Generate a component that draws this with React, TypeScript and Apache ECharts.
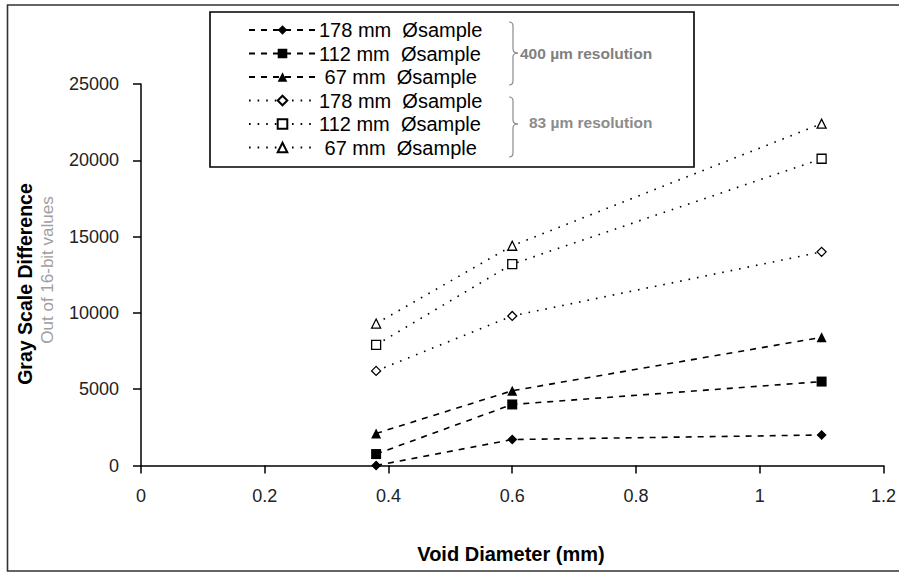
import React, { useEffect, useRef } from "react";
import * as echarts from "echarts";

const xValues = [0.38, 0.6, 1.1];
const s178at400 = [0, 1700, 2000];
const s112at400 = [750, 4000, 5500];
const s67at400 = [2100, 4900, 8400];
const s178at83 = [6200, 9800, 14000];
const s112at83 = [7900, 13200, 20100];
const s67at83 = [9300, 14400, 22400];

const seriesIds = ["f178", "f112", "f67", "o178", "o112", "o67"];
const seriesLabels = [
  "178 mm\u00a0\u00a0Øsample",
  "112 mm\u00a0\u00a0Øsample",
  "\u00a067 mm\u00a0\u00a0Øsample",
  "178 mm\u00a0\u00a0Øsample",
  "112 mm\u00a0\u00a0Øsample",
  "\u00a067 mm\u00a0\u00a0Øsample",
];
const seriesValues = [s178at400, s112at400, s67at400, s178at83, s112at83, s67at83];
const seriesSymbols = ["diamond", "rect", "triangle", "diamond", "rect", "triangle"];
const groupLabels = ["400 µm resolution", "83 µm resolution"];
const xTicks = [0, 0.2, 0.4, 0.6, 0.8, 1, 1.2];
const yTicks = [0, 5000, 10000, 15000, 20000, 25000];

const FONT = "Liberation Sans, Arial, sans-serif";

function brace(x0: number, yTop: number, yMid: number, yBot: number) {
  const xv = x0 + 4;
  const xt = x0 + 9;
  const st = { stroke: "#8a8a8a", lineWidth: 1.2, fill: null as any };
  return [
    { type: "bezierCurve", shape: { x1: x0, y1: yTop, cpx1: xv, cpy1: yTop, x2: xv, y2: yTop + 4 }, style: st },
    { type: "line", shape: { x1: xv, y1: yTop + 4, x2: xv, y2: yMid - 4 }, style: st },
    { type: "bezierCurve", shape: { x1: xv, y1: yMid - 4, cpx1: xv, cpy1: yMid, x2: xt, y2: yMid }, style: st },
    { type: "bezierCurve", shape: { x1: xt, y1: yMid, cpx1: xv, cpy1: yMid, x2: xv, y2: yMid + 4 }, style: st },
    { type: "line", shape: { x1: xv, y1: yMid + 4, x2: xv, y2: yBot - 4 }, style: st },
    { type: "bezierCurve", shape: { x1: xv, y1: yBot - 4, cpx1: xv, cpy1: yBot, x2: x0, y2: yBot }, style: st },
  ];
}

export default function App() {
  const ref = useRef<HTMLDivElement>(null);
  useEffect(() => {
    if (!ref.current) return;
    const chart = echarts.init(ref.current, null, { renderer: "svg" });
    const series = seriesIds.map((id, i) => {
      const filled = i < 3;
      return {
        name: id,
        type: "line",
        data: xValues.map((x, j) => [x, seriesValues[i][j]]),
        symbol: seriesSymbols[i],
        symbolSize: filled ? 10 : 9,
        showSymbol: true,
        lineStyle: filled
          ? { color: "#000", width: 1.6, type: [6, 6] }
          : { color: "#000", width: 1.6, type: [1.6, 7] },
        itemStyle: filled
          ? { color: "#000", borderColor: "#000", borderWidth: 0 }
          : { color: "#fff", borderColor: "#000", borderWidth: 1.3 },
        z: 3,
      };
    });
    const option: any = {
      animation: false,
      backgroundColor: "#fff",
      textStyle: { fontFamily: FONT },
      grid: { left: 141, top: 84, width: 750, height: 381.5, containLabel: false },
      xAxis: {
        type: "value",
        min: 0,
        max: 1.2,
        interval: 0.2,
        axisLine: { show: true, onZero: false, lineStyle: { color: "#000", width: 1.5 } },
        axisTick: { show: true, inside: false, length: 8, lineStyle: { color: "#000", width: 1.5 } },
        axisLabel: {
          margin: 21,
          color: "#222",
          fontSize: 18,
          fontFamily: FONT,
          formatter: (v: number) => {
            const t = xTicks.find((k) => Math.abs(k - v) < 1e-6);
            return t === undefined ? "" : String(t);
          },
        },
        splitLine: { show: false },
      },
      yAxis: {
        type: "value",
        min: 0,
        max: 25000,
        interval: 5000,
        axisLine: { show: true, lineStyle: { color: "#000", width: 1.5 } },
        axisTick: { show: true, inside: false, length: 8, lineStyle: { color: "#000", width: 1.5 } },
        axisLabel: {
          margin: 22,
          color: "#222",
          fontSize: 18,
          fontFamily: FONT,
          formatter: (v: number) => (yTicks.includes(v) ? String(v) : ""),
        },
        splitLine: { show: false },
      },
      legend: {
        data: seriesIds,
        orient: "vertical",
        left: 248,
        top: 20,
        padding: 0,
        itemWidth: 67,
        itemHeight: 12,
        itemGap: 3.5,
        formatter: (name: string) => seriesLabels[seriesIds.indexOf(name)],
        textStyle: { fontSize: 20, color: "#000", fontFamily: FONT, lineHeight: 20, padding: [0, 0, 0, -2] },
        selectedMode: false,
        z: 10,
      },
      graphic: [
        {
          type: "rect",
          shape: { x: 7.5, y: 5, width: 900, height: 566 },
          style: { fill: null, stroke: "#333", lineWidth: 1.6 },
          z: 0,
          silent: true,
        },
        {
          type: "rect",
          shape: { x: 210, y: 12, width: 484, height: 155 },
          style: { fill: "#fff", stroke: "#000", lineWidth: 1.6 },
          z: 1,
          silent: true,
        },
        ...brace(509, 22, 53, 85).map((e: any) => ({ ...e, z: 11 })),
        ...brace(509, 97, 124, 157).map((e: any) => ({ ...e, z: 11 })),
        {
          type: "text",
          x: 520,
          y: 53,
          z: 11,
          style: {
            text: groupLabels[0],
            fill: "#808080",
            font: "bold 15.5px " + FONT,
            textAlign: "left",
            textVerticalAlign: "middle",
          },
        },
        {
          type: "text",
          x: 529,
          y: 122,
          z: 11,
          style: {
            text: groupLabels[1],
            fill: "#8c8c8c",
            font: "bold 15.5px " + FONT,
            textAlign: "left",
            textVerticalAlign: "middle",
          },
        },
        {
          type: "text",
          x: 25,
          y: 284,
          rotation: Math.PI / 2,
          z: 11,
          style: {
            text: "Gray Scale Difference",
            fill: "#000",
            font: "bold 19.5px " + FONT,
            textAlign: "center",
            textVerticalAlign: "middle",
          },
        },
        {
          type: "text",
          x: 47,
          y: 270,
          rotation: Math.PI / 2,
          z: 11,
          style: {
            text: "Out of 16-bit values",
            fill: "#a0a0a0",
            font: "17px " + FONT,
            textAlign: "center",
            textVerticalAlign: "middle",
          },
        },
        {
          type: "text",
          x: 511,
          y: 554,
          z: 11,
          style: {
            text: "Void Diameter (mm)",
            fill: "#000",
            font: "bold 20px " + FONT,
            textAlign: "center",
            textVerticalAlign: "middle",
          },
        },
      ],
      series,
    };
    chart.setOption(option);
    return () => chart.dispose();
  }, []);
  return (
    <div
      ref={ref}
      style={{ position: "absolute", left: 0, top: 0, width: 899, height: 573, background: "#fff" }}
    />
  );
}
